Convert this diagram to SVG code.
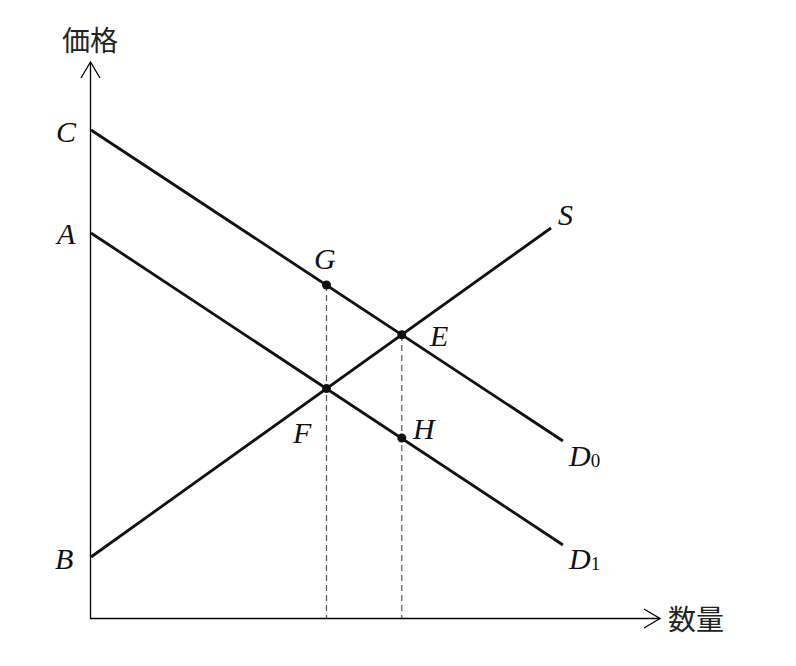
<svg xmlns="http://www.w3.org/2000/svg" width="796" height="666" viewBox="0 0 796 666">
<style>
.ax{stroke:#000;stroke-width:1.3;fill:none}
.ln{stroke:#111;stroke-width:2.8;fill:none;stroke-linecap:butt}
.ds{stroke:#555;stroke-width:1.2;stroke-dasharray:6,4;fill:none}
.lb{font-family:"Liberation Serif",serif;font-style:italic;font-size:30px;fill:#111}
.sb{font-family:"Liberation Serif",serif;font-size:19px;fill:#111}
.cj{font-family:"Noto Sans CJK JP","Liberation Serif",serif;font-size:28px;fill:#222}
.pt{fill:#111}
</style>
<rect width="796" height="666" fill="#fff"/>
<g id="axes">
<path class="ax" d="M90.5,62 V618.5 H660"/>
<path class="ax" d="M81,78 L90.5,62 L100,78"/>
<path class="ax" d="M644,609 L660,618.5 L644,628"/>
<text class="cj" x="62" y="51">価格</text>
<text class="cj" x="668" y="630">数量</text>
</g>
<g id="connectors">
<path class="ds" d="M326.5,285 V618"/>
<path class="ds" d="M401.8,335 V618"/>
<path id="D0" class="ln" d="M91,130 L563,441"/>
<path id="D1" class="ln" d="M91,233 L563,545"/>
<path id="S" class="ln" d="M91,557 L551,228"/>
</g>
<g id="labels">
<text class="lb" x="56" y="142">C</text>
<text class="lb" x="57" y="244">A</text>
<text class="lb" x="55" y="569">B</text>
<text class="lb" x="558" y="225">S</text>
<text class="lb" x="569" y="466">D<tspan class="sb" font-style="normal" dy="1">0</tspan></text>
<text class="lb" x="569" y="569">D<tspan class="sb" font-style="normal" dy="1">1</tspan></text>
</g>
<g id="G"><circle class="pt" cx="326.5" cy="285" r="4.5"/><text class="lb" x="314" y="269">G</text></g>
<g id="E"><circle class="pt" cx="401.8" cy="334.8" r="4.5"/><text class="lb" x="430" y="346">E</text></g>
<g id="F"><circle class="pt" cx="326.5" cy="388.6" r="4.5"/><text class="lb" x="293" y="443">F</text></g>
<g id="H"><circle class="pt" cx="401.8" cy="438" r="4.5"/><text class="lb" x="413" y="439">H</text></g>
</svg>
